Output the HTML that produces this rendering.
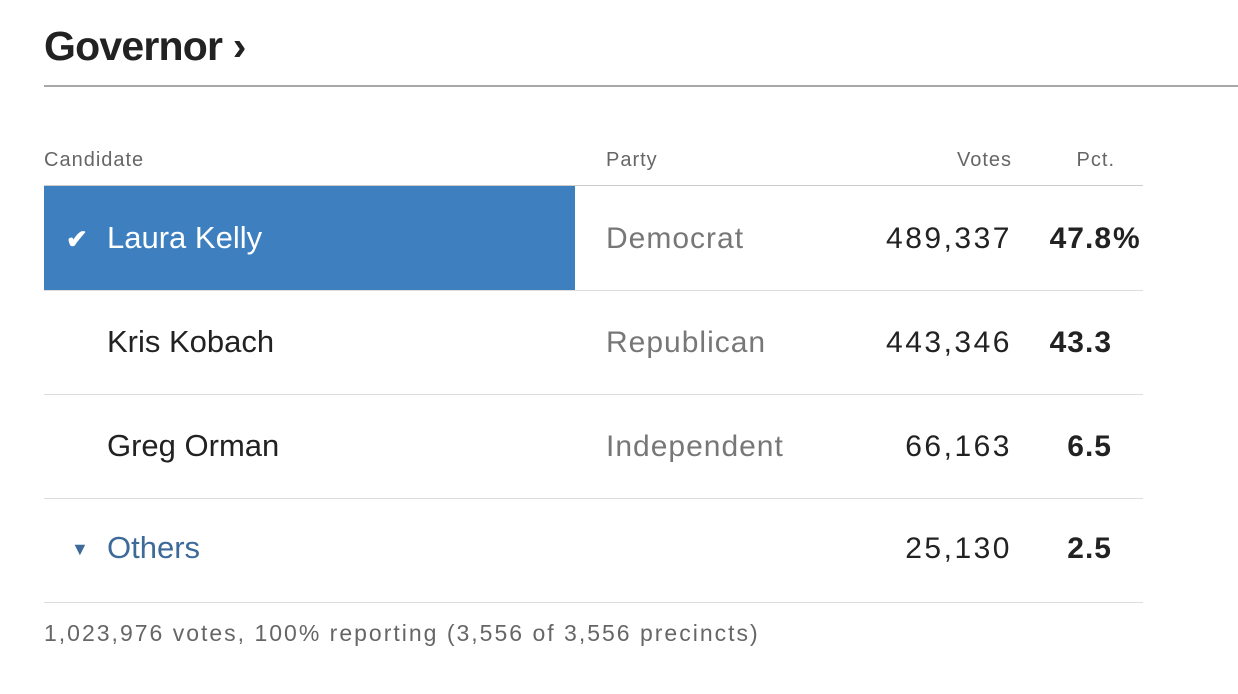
<!DOCTYPE html>
<html><head><style>
body{margin:0;background:#fff;width:1238px;height:694px;position:relative;font-family:"Liberation Sans",sans-serif;overflow:hidden}
.a{position:absolute;white-space:nowrap}
.t{left:44px;top:23px;font-size:41px;font-weight:bold;color:#222;letter-spacing:-0.8px}
.rule{left:44px;top:85px;width:1194px;height:2px;background:#a8a8a8}
.h{top:149px;font-size:20px;color:#666;letter-spacing:1px}
.line{left:44px;width:1099px;height:1px;background:#ddd}
.n{font-size:31px;color:#222}
.p{left:606px;font-size:30px;color:#777;letter-spacing:1px}
.v{font-size:30px;color:#222;text-align:right;width:200px;left:812px;letter-spacing:2.5px}
.pc{font-size:30px;font-weight:bold;color:#222;text-align:right;width:150px;left:962px;letter-spacing:1px}
</style></head><body>
<div class="a t">Governor ›</div>
<div class="a rule"></div>
<div class="a h" style="left:44px">Candidate</div>
<div class="a h" style="left:606px">Party</div>
<div class="a h" style="left:912px;width:100px;text-align:right">Votes</div>
<div class="a h" style="left:1015px;width:100px;text-align:right">Pct.</div>
<div class="a line" style="top:185px;background:#ccc"></div>
<div class="a" style="left:44px;top:186px;width:531px;height:104px;background:#3d7fbf"></div>
<div class="a line" style="top:290px"></div>
<div class="a line" style="top:394px"></div>
<div class="a line" style="top:498px"></div>
<div class="a line" style="top:602px"></div>
<div class="a" style="left:66px;top:224px;font-size:26px;color:#fff;font-weight:bold">✔</div>
<div class="a n" style="left:107px;top:220px;color:#fff">Laura Kelly</div>
<div class="a p" style="top:222px">Democrat</div>
<div class="a v" style="top:222px">489,337</div>
<div class="a pc" style="top:222px">47.8<span style="position:absolute;left:151px">%</span></div>
<div class="a n" style="left:107px;top:324px">Kris Kobach</div>
<div class="a p" style="top:326px">Republican</div>
<div class="a v" style="top:326px">443,346</div>
<div class="a pc" style="top:326px">43.3</div>
<div class="a n" style="left:107px;top:428px">Greg Orman</div>
<div class="a p" style="top:430px">Independent</div>
<div class="a v" style="top:430px">66,163</div>
<div class="a pc" style="top:430px">6.5</div>
<div class="a" style="left:71px;top:539px;font-size:18px;color:#3d6a99">▼</div>
<div class="a n" style="left:107px;top:530px;color:#3d6a99">Others</div>
<div class="a v" style="top:532px">25,130</div>
<div class="a pc" style="top:532px">2.5</div>
<div class="a" style="left:44px;top:620px;font-size:23px;color:#666;letter-spacing:2px">1,023,976 votes, 100% reporting (3,556 of 3,556 precincts)</div>
</body></html>
